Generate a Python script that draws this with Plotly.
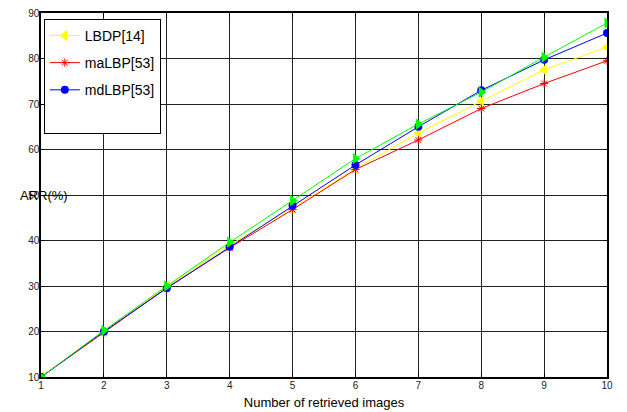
import plotly.graph_objects as go

x_vals = [1, 2, 3, 4, 5, 6, 7, 8, 9, 10]
lbdp = [10, 20, 29.8, 39.0, 47.2, 55.8, 63.6, 70.6, 77.5, 82.5]
malbp = [10, 19.8, 29.6, 38.4, 46.8, 55.6, 62.1, 69.0, 74.5, 79.5]
mdlbp = [10, 20, 29.5, 38.6, 47.7, 56.6, 65.0, 73.0, 79.7, 85.6]
green_series = [10, 20.2, 30.0, 39.6, 48.8, 58.0, 65.6, 72.6, 80.3, 87.8]
y_ticks = [10, 20, 30, 40, 50, 60, 70, 80, 90]

fig = go.Figure()
fig.add_trace(go.Scatter(x=x_vals, y=lbdp, name="LBDP[14]", mode="lines+markers",
                         line=dict(color="#ffff00", width=1),
                         marker=dict(symbol="triangle-left", size=10, color="#ffff00"),
                         legendgroup="a"))
fig.add_trace(go.Scatter(x=x_vals, y=malbp, name="maLBP[53]", mode="lines+markers",
                         line=dict(color="#ff0000", width=1),
                         marker=dict(symbol="asterisk-open", size=7, color="#ff0000",
                                     line=dict(color="#ff0000", width=1)),
                         legendgroup="b"))
fig.add_trace(go.Scatter(x=x_vals, y=mdlbp, name="mdLBP[53]", mode="lines+markers",
                         line=dict(color="#0000ff", width=1),
                         marker=dict(symbol="circle", size=8, color="#0000ff"),
                         legendgroup="c"))
fig.add_trace(go.Scatter(x=x_vals, y=green_series, name="", mode="lines+markers",
                         line=dict(color="#00ff00", width=1),
                         marker=dict(symbol="triangle-right", size=10, color="#00ff00"),
                         legendgroup="d", showlegend=False))
fig.add_trace(go.Scatter(x=[None], y=[None], name=" ", mode="lines",
                         line=dict(color="rgba(0,0,0,0)", width=1),
                         legendgroup="e", showlegend=True))

axis_common = dict(showline=True, linecolor="black", linewidth=1.5, mirror="ticks",
                   ticks="inside", ticklen=4, tickcolor="black",
                   showgrid=True, gridcolor="#222222", gridwidth=1,
                   zeroline=False, automargin=False, ticklabelstandoff=-2,
                   ticklabeloverflow="allow",
                   tickfont=dict(family="Arial", size=10, color="#222222"))

fig.update_xaxes(range=[1, 10], tickvals=x_vals, ticktext=[str(v) for v in x_vals],
                 title=dict(text="Number of retrieved images",
                            font=dict(family="Arial", size=13, color="black"), standoff=8),
                 **axis_common)
fig.update_yaxes(range=[10, 90], tickvals=y_ticks, ticktext=[str(v) for v in y_ticks],
                 **axis_common)

fig.add_annotation(text="ARR(%)", xref="paper", yref="paper", x=0.005, y=(50 - 10) / 80,
                   xanchor="center", yanchor="middle", showarrow=False,
                   font=dict(family="Arial", size=13, color="black"))

fig.update_layout(
    width=619, height=404,
    margin=dict(l=33, r=20, t=5, b=35),
    paper_bgcolor="white", plot_bgcolor="white",
    showlegend=True,
    legend=dict(x=0.005, y=0.984, xanchor="left", yanchor="top",
                bgcolor="white", bordercolor="black", borderwidth=1,
                font=dict(family="Arial", size=14, color="black"),
                tracegroupgap=6, itemwidth=30, traceorder="grouped"),
)

fig.write_html("out.html")
